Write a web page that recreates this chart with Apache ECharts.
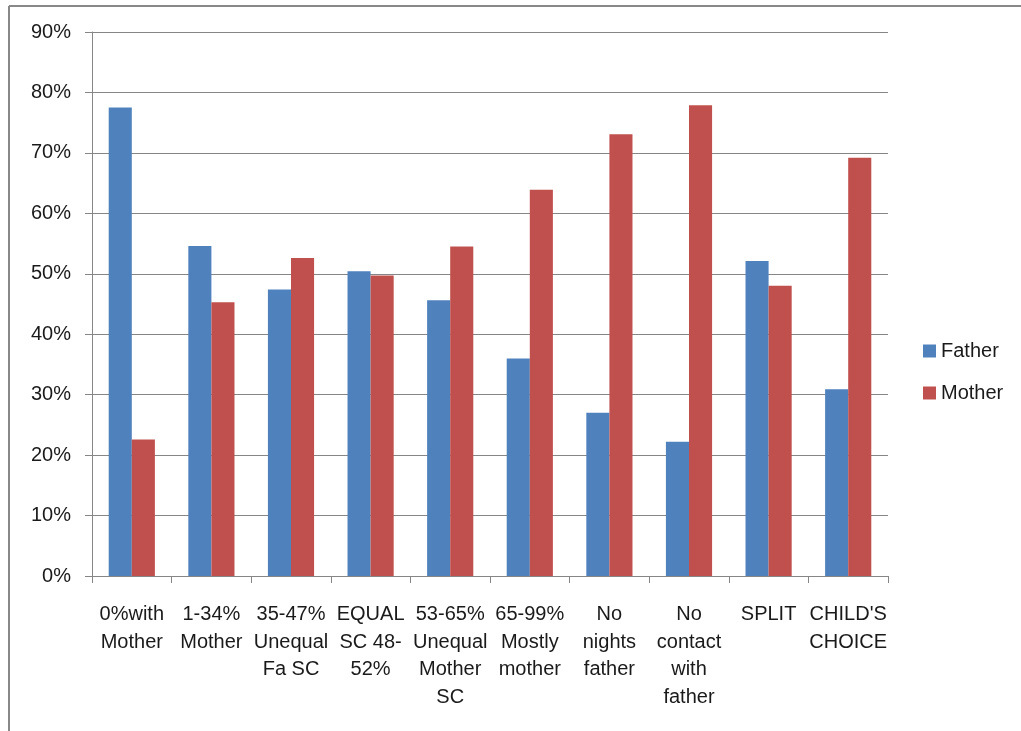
<!DOCTYPE html>
<html>
<head>
<meta charset="utf-8">
<script src="https://cdn.jsdelivr.net/npm/echarts@6/dist/echarts.min.js"></script>
<style>
  html, body { margin: 0; padding: 0; background: #fff; }
  #chart { width: 1021px; height: 731px; }
</style>
</head>
<body>
<div id="chart"></div>
<script>
var categories = [
  "0%with\nMother",
  "1-34%\nMother",
  "35-47%\nUnequal\nFa SC",
  "EQUAL\nSC 48-\n52%",
  "53-65%\nUnequal\nMother\nSC",
  "65-99%\nMostly\nmother",
  "No\nnights\nfather",
  "No\ncontact\nwith\nfather",
  "SPLIT",
  "CHILD'S\nCHOICE"
];
var fatherValues = [77.5, 54.6, 47.4, 50.4, 45.6, 36.0, 27.0, 22.2, 52.1, 30.9];
var motherValues = [22.6, 45.3, 52.6, 49.7, 54.5, 63.9, 73.1, 77.9, 48.0, 69.2];
var yTicks = { min: 0, max: 90, step: 10 };

var font = "'Liberation Sans', Arial, sans-serif";
var axisGrey = "#868686";
var textColor = "#1a1a1a";

var chart = echarts.init(document.getElementById("chart"), null, { renderer: "canvas" });

chart.setOption({
  animation: false,
  backgroundColor: "#ffffff",
  color: ["#4f81bd", "#c0504d"],
  graphic: [
    // outer frame of the chart area (only top and left edges visible)
    { type: "line", shape: { x1: 9, y1: 6, x2: 1021, y2: 6 }, style: { stroke: "#888", lineWidth: 2 } },
    { type: "line", shape: { x1: 9, y1: 6, x2: 9, y2: 731 }, style: { stroke: "#888", lineWidth: 2 } }
  ],
  grid: { left: 92, right: 133, top: 32, bottom: 155, containLabel: false },
  legend: {
    orient: "vertical",
    left: 918,
    top: 336,
    itemWidth: 13,
    itemHeight: 13,
    itemGap: 22,
    icon: "rect",
    textStyle: { fontFamily: font, fontSize: 20, color: textColor },
    data: ["Father", "Mother"]
  },
  xAxis: {
    type: "category",
    data: categories,
    axisLine: { lineStyle: { color: axisGrey, width: 1 } },
    axisTick: { show: true, length: 7, lineStyle: { color: axisGrey } },
    axisLabel: {
      interval: 0,
      margin: 25,
      fontFamily: font,
      fontSize: 20,
      lineHeight: 27.5,
      color: textColor,
      align: "center"
    }
  },
  yAxis: {
    type: "value",
    min: yTicks.min,
    max: yTicks.max,
    interval: yTicks.step,
    axisLine: { show: true, lineStyle: { color: axisGrey, width: 1 } },
    axisTick: { show: true, length: 7, lineStyle: { color: axisGrey } },
    splitLine: { lineStyle: { color: axisGrey, width: 1 } },
    axisLabel: {
      margin: 21,
      fontFamily: font,
      fontSize: 20,
      color: textColor,
      formatter: function (v) { return v + "%"; }
    }
  },
  series: [
    {
      name: "Father",
      type: "bar",
      data: fatherValues,
      barGap: "0%",
      barCategoryGap: "42%"
    },
    {
      name: "Mother",
      type: "bar",
      data: motherValues,
      barGap: "0%",
      barCategoryGap: "42%"
    }
  ]
});
</script>
</body>
</html>
